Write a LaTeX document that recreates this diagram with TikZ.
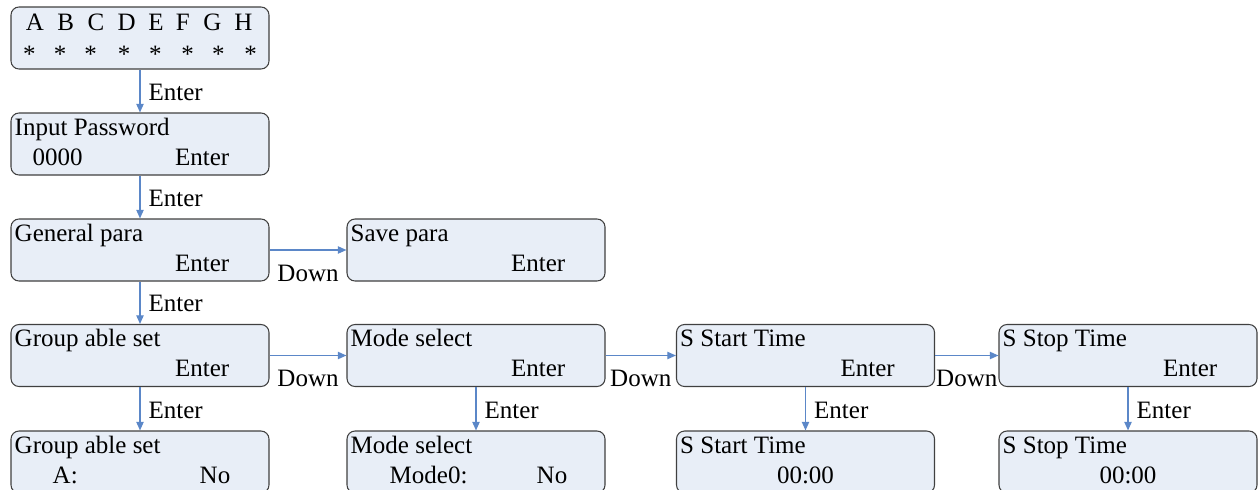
\documentclass[tikz,border=0pt]{standalone}
\usepackage{fontspec}
\setmainfont{Liberation Serif}
\usetikzlibrary{arrows.meta}
\definecolor{boxfill}{RGB}{232,238,247}
\definecolor{boxline}{RGB}{64,64,64}
\definecolor{arrblue}{RGB}{91,135,200}

\begin{document}
\begin{tikzpicture}[x=0.75pt, y=-0.75pt,
  every node/.style={font=\fontsize{18.75}{22}\selectfont, inner sep=0pt},
  screen/.style={draw=boxline, fill=boxfill, line width=0.8pt, rounded corners=6pt,
    minimum width=193.5pt, minimum height=46.5pt},
  lt/.style={anchor=base west},
  rt/.style={anchor=base east},
  link/.style={draw=arrblue, line width=1pt, -{Triangle[length=6.5pt,width=5.5pt]}},
  enterlbl/.style={pos=1, anchor=base west, xshift=6pt, yshift=9pt},
  downlbl/.style={midway, anchor=base, yshift=-23.25pt}]
  \useasboundingbox (0,0) rectangle (1259,489);
  \clip (0,0) rectangle (1259,489);

  % screens
  \node[screen] (start) at (140,38) {};
  \node[screen] (pass) at (140,144) {};
  \node[screen] (gen) at (140,250) {};
  \node[screen] (save) at (476,250) {};
  \node[screen] (grp) at (140,355.5) {};
  \node[screen] (mode) at (476,355.5) {};
  \node[screen] (sstart) at (805.5,355.5) {};
  \node[screen] (sstop) at (1128,355.5) {};
  \node[screen] (grpset) at (140,462) {};
  \node[screen] (modeset) at (476,462) {};
  \node[screen] (sstartset) at (805.5,462) {};
  \node[screen] (sstopset) at (1128,462) {};

  % start screen
  \foreach \l/\x [count=\i] in {A/35,B/65.7,C/96,D/126.7,E/156,F/182.7,G/212.3,H/243.3}
    \node[anchor=base] (key\i) at (\x,31) {\l};
  \foreach \x [count=\i] in {29.3,60,90.7,124,155.3,187.7,218.3,250.7}
    \node[anchor=base] (star\i) at (\x,62) {*};

  % screen texts
  \node[lt] (passa) at ([shift={(4,23)}]pass.north west) {Input Password};
  \node[lt] (passb) at ([shift={(22,53)}]pass.north west) {0000};
  \node[rt] (passc) at ([shift={(-40,53)}]pass.north east) {Enter};
  \node[lt] (gena) at ([shift={(4,23)}]gen.north west) {General para};
  \node[rt] (genb) at ([shift={(-40,53)}]gen.north east) {Enter};
  \node[lt] (savea) at ([shift={(4,23)}]save.north west) {Save para};
  \node[rt] (saveb) at ([shift={(-40,53)}]save.north east) {Enter};
  \node[lt] (grpa) at ([shift={(4,23)}]grp.north west) {Group able set};
  \node[rt] (grpb) at ([shift={(-40,53)}]grp.north east) {Enter};
  \node[lt] (modea) at ([shift={(4,23)}]mode.north west) {Mode select};
  \node[rt] (modeb) at ([shift={(-40,53)}]mode.north east) {Enter};
  \node[lt] (sstarta) at ([shift={(4,23)}]sstart.north west) {S Start Time};
  \node[rt] (sstartb) at ([shift={(-40,53)}]sstart.north east) {Enter};
  \node[lt] (sstopa) at ([shift={(4,23)}]sstop.north west) {S Stop Time};
  \node[rt] (sstopb) at ([shift={(-40,53)}]sstop.north east) {Enter};
  \node[lt] (grpseta) at ([shift={(4,23)}]grpset.north west) {Group able set};
  \node[lt] (grpsetb) at ([shift={(42,53)}]grpset.north west) {A:};
  \node[rt] (grpsetc) at ([shift={(-39,53)}]grpset.north east) {No};
  \node[lt] (modeseta) at ([shift={(4,23)}]modeset.north west) {Mode select};
  \node[lt] (modesetb) at ([shift={(43,53)}]modeset.north west) {Mode0:};
  \node[rt] (modesetc) at ([shift={(-38,53)}]modeset.north east) {No};
  \node[lt] (sstartseta) at ([shift={(4,23)}]sstartset.north west) {S Start Time};
  \node[anchor=base] (sstartsetb) at ([shift={(0,53)}]sstartset.north) {00:00};
  \node[lt] (sstopseta) at ([shift={(4,23)}]sstopset.north west) {S Stop Time};
  \node[anchor=base] (sstopsetb) at ([shift={(0,53)}]sstopset.north) {00:00};

  % links
  \draw[link] (start.south) -- (pass.north) node[enterlbl] {Enter};
  \draw[link] (pass.south) -- (gen.north) node[enterlbl] {Enter};
  \draw[link] (gen.south) -- (grp.north) node[enterlbl] {Enter};
  \draw[link] (grp.south) -- (grpset.north) node[enterlbl] {Enter};
  \draw[link] (mode.south) -- (modeset.north) node[enterlbl] {Enter};
  \draw[link] (sstart.south) -- (sstartset.north) node[enterlbl] {Enter};
  \draw[link] (sstop.south) -- (sstopset.north) node[enterlbl] {Enter};
  \draw[link] (gen.east) -- (save.west) node[downlbl] {Down};
  \draw[link] (grp.east) -- (mode.west) node[downlbl] {Down};
  \draw[link] (mode.east) -- (sstart.west) node[downlbl] {Down};
  \draw[link] (sstart.east) -- (sstop.west) node[downlbl] {Down};
\end{tikzpicture}
\end{document}
